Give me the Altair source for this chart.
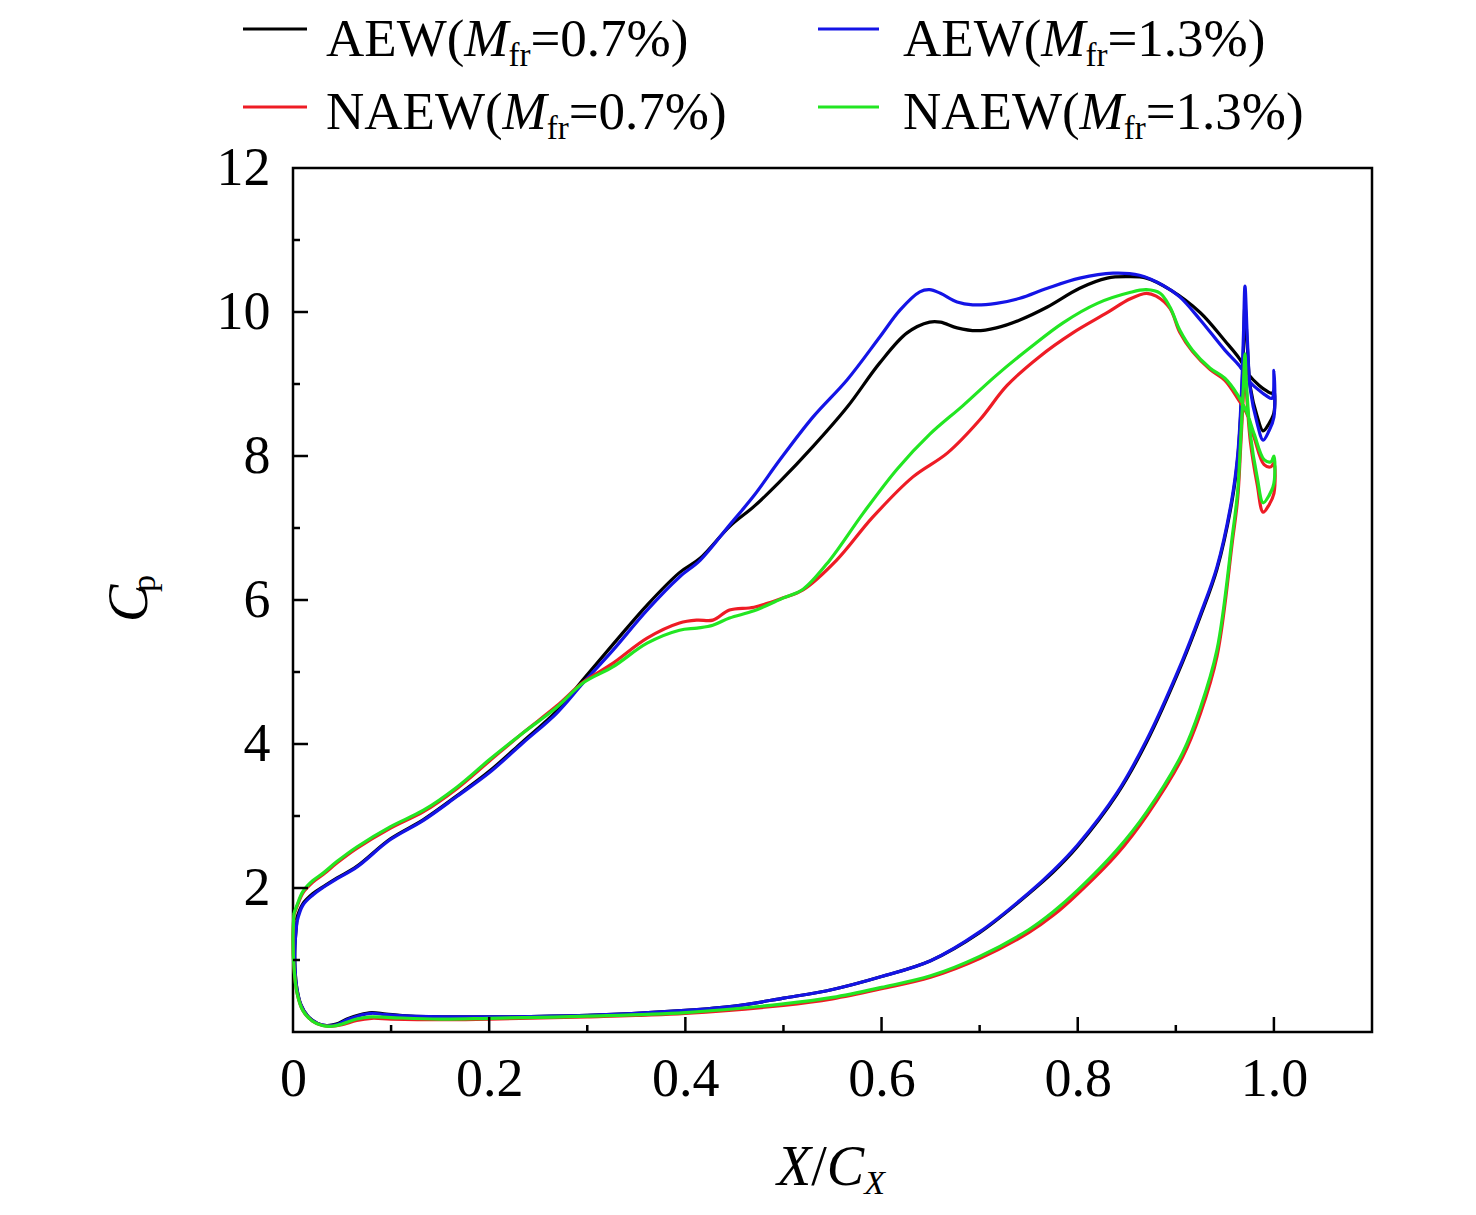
import altair as alt
import pandas as pd

FONT = "Liberation Serif"

# ---------------- data ----------------
SERIES = ["AEW07", "AEW13", "NAEW07", "NAEW13"]
COLORS = {"AEW07": "#000000", "AEW13": "#1414e6", "NAEW07": "#ee1c25", "NAEW13": "#22e622"}

AEW07_UP_X = [0.003, 0.01, 0.02, 0.031, 0.045, 0.065, 0.099, 0.133, 0.167, 0.2, 0.234, 0.269, 0.296,
              0.326, 0.361, 0.394, 0.415, 0.445, 0.47, 0.496, 0.53, 0.565, 0.598, 0.626, 0.649, 0.66,
              0.677, 0.697, 0.717, 0.741, 0.769, 0.802, 0.83, 0.85, 0.87, 0.894, 0.925, 0.95, 0.965,
              0.975, 0.985, 0.993, 0.998, 1.0]
AEW07_UP_Y = [1.55, 1.78, 1.92, 2.02, 2.14, 2.3, 2.68, 2.95, 3.28, 3.62, 4.03, 4.46, 4.9,
              5.38, 5.93, 6.38, 6.58, 7.02, 7.3, 7.64, 8.13, 8.68, 9.29, 9.71, 9.86, 9.86,
              9.78, 9.74, 9.78, 9.89, 10.07, 10.33, 10.47, 10.49, 10.47, 10.31, 9.99, 9.6, 9.35,
              9.12, 8.98, 8.9, 8.87, 8.9]
AEW07_LO_X = [0.004, 0.002, 0.002, 0.004, 0.008, 0.015, 0.025, 0.034, 0.044, 0.055, 0.068, 0.08, 0.095,
              0.12, 0.2, 0.3, 0.4, 0.45, 0.5, 0.55, 0.6, 0.65, 0.7, 0.75, 0.775, 0.8, 0.84, 0.87,
              0.907, 0.925, 0.942, 0.957, 0.963, 0.967, 0.969, 0.9705, 0.973, 0.976, 0.983, 0.989,
              0.995, 1.0]
AEW07_LO_Y = [1.55, 1.2, 0.9, 0.6, 0.38, 0.22, 0.12, 0.09, 0.11, 0.18, 0.24, 0.27, 0.25,
              0.22, 0.21, 0.23, 0.3, 0.36, 0.47, 0.59, 0.77, 0.99, 1.38, 1.92, 2.22, 2.58, 3.3, 4.02,
              5.14, 5.77, 6.43, 7.35, 7.95, 8.8, 9.5, 10.1, 9.5, 8.95, 8.55, 8.35,
              8.45, 8.6]

AEW13_UP_X = [0.004, 0.01, 0.02, 0.031, 0.045, 0.065, 0.099, 0.133, 0.167, 0.2, 0.234, 0.269, 0.296,
              0.326, 0.361, 0.394, 0.415, 0.445, 0.47, 0.496, 0.53, 0.565, 0.598, 0.619, 0.639, 0.649,
              0.66, 0.677, 0.693, 0.717, 0.741, 0.769, 0.802, 0.836, 0.863, 0.887, 0.904, 0.925, 0.95,
              0.965, 0.976, 0.986, 0.993, 0.998, 1.0]
AEW13_UP_Y = [1.53, 1.76, 1.9, 2.01, 2.13, 2.29, 2.67, 2.94, 3.27, 3.6, 4.01, 4.43, 4.85,
              5.3, 5.86, 6.32, 6.55, 7.04, 7.45, 7.94, 8.54, 9.06, 9.65, 10.03, 10.28, 10.31,
              10.26, 10.14, 10.1, 10.12, 10.19, 10.33, 10.47, 10.54, 10.51, 10.37, 10.21, 9.89, 9.47,
              9.25, 9.02, 8.9, 8.83, 8.8, 9.19]
AEW13_LO_X = [0.004, 0.002, 0.002, 0.004, 0.008, 0.015, 0.025, 0.034, 0.044, 0.055, 0.068, 0.08, 0.095,
              0.12, 0.2, 0.3, 0.4, 0.45, 0.5, 0.55, 0.6, 0.65, 0.7, 0.75, 0.775, 0.8, 0.84, 0.87,
              0.907, 0.925, 0.942, 0.957, 0.963, 0.967, 0.969, 0.9705, 0.973, 0.976, 0.983, 0.989,
              0.995, 1.0]
AEW13_LO_Y = [1.53, 1.2, 0.9, 0.6, 0.38, 0.22, 0.12, 0.09, 0.1, 0.17, 0.23, 0.26, 0.24,
              0.22, 0.21, 0.23, 0.3, 0.36, 0.47, 0.59, 0.77, 0.99, 1.39, 1.93, 2.24, 2.6, 3.32, 4.05,
              5.17, 5.8, 6.46, 7.39, 8.0, 8.9, 9.7, 10.36, 9.6, 8.92, 8.45, 8.22,
              8.35, 8.54]

NAEW07_UP_X = [0.001, 0.004, 0.01, 0.02, 0.031, 0.045, 0.065, 0.099, 0.133, 0.167, 0.2, 0.234, 0.269,
               0.296, 0.326, 0.361, 0.394, 0.412, 0.428, 0.445, 0.47, 0.5, 0.52, 0.554, 0.591, 0.632,
               0.667, 0.7, 0.728, 0.761, 0.795, 0.83, 0.853, 0.87, 0.88, 0.894, 0.904, 0.917, 0.935,
               0.95, 0.963, 0.972, 0.98, 0.99, 0.997, 1.0]
NAEW07_UP_Y = [1.63, 1.74, 1.93, 2.08, 2.19, 2.35, 2.55, 2.83, 3.06, 3.38, 3.76, 4.15, 4.53,
               4.86, 5.12, 5.47, 5.68, 5.72, 5.72, 5.86, 5.9, 6.03, 6.14, 6.55, 7.15, 7.71,
               8.04, 8.5, 8.98, 9.38, 9.71, 9.99, 10.18, 10.26, 10.22, 10.05, 9.72, 9.45, 9.2,
               9.05, 8.8, 8.6, 8.25, 7.88, 7.85, 7.9]
NAEW07_LO_X = [0.001, 0.0, 0.001, 0.004, 0.01, 0.02, 0.03, 0.04, 0.05, 0.065, 0.08, 0.1, 0.15, 0.2,
               0.3, 0.4, 0.5, 0.55, 0.6, 0.65, 0.7, 0.75, 0.775, 0.8, 0.84, 0.87, 0.907, 0.925, 0.942,
               0.958, 0.963, 0.966, 0.969, 0.9705, 0.972, 0.976, 0.983, 0.989, 0.995, 1.0]
NAEW07_LO_Y = [1.63, 1.3, 0.9, 0.55, 0.3, 0.15, 0.09, 0.08, 0.1, 0.16, 0.19, 0.18, 0.17, 0.18,
               0.21, 0.26, 0.37, 0.46, 0.6, 0.76, 1.02, 1.38, 1.62, 1.92, 2.47, 3.0, 3.82, 4.42, 5.22,
               6.85, 7.4, 8.1, 8.9, 9.35, 8.9, 8.2, 7.6, 7.22, 7.32, 7.48]

NAEW13_UP_X = [0.001, 0.004, 0.01, 0.02, 0.031, 0.045, 0.065, 0.099, 0.133, 0.167, 0.2, 0.234, 0.269,
               0.296, 0.326, 0.361, 0.394, 0.412, 0.428, 0.445, 0.47, 0.5, 0.52, 0.547, 0.581, 0.616,
               0.649, 0.683, 0.717, 0.751, 0.785, 0.82, 0.853, 0.87, 0.884, 0.894, 0.904, 0.917, 0.935,
               0.95, 0.963, 0.972, 0.98, 0.99, 0.997, 1.0]
NAEW13_UP_Y = [1.65, 1.76, 1.95, 2.1, 2.21, 2.37, 2.57, 2.85, 3.08, 3.4, 3.78, 4.15, 4.51,
               4.85, 5.07, 5.4, 5.58, 5.61, 5.65, 5.75, 5.85, 6.03, 6.15, 6.55, 7.2, 7.82,
               8.3, 8.7, 9.12, 9.5, 9.85, 10.12, 10.27, 10.31, 10.26, 10.07, 9.75, 9.47, 9.22,
               9.08, 8.85, 8.62, 8.3, 7.95, 7.92, 8.0]
NAEW13_LO_X = [0.001, 0.0, 0.001, 0.004, 0.01, 0.02, 0.03, 0.04, 0.05, 0.065, 0.08, 0.1, 0.15, 0.2,
               0.3, 0.4, 0.5, 0.55, 0.6, 0.65, 0.7, 0.75, 0.775, 0.8, 0.84, 0.87, 0.907, 0.925, 0.942,
               0.958, 0.963, 0.966, 0.969, 0.9705, 0.972, 0.976, 0.983, 0.989, 0.995, 1.0]
NAEW13_LO_Y = [1.65, 1.3, 0.9, 0.55, 0.3, 0.15, 0.09, 0.08, 0.11, 0.18, 0.21, 0.2, 0.18, 0.19,
               0.22, 0.27, 0.39, 0.48, 0.62, 0.78, 1.05, 1.42, 1.67, 1.97, 2.53, 3.05, 3.88, 4.5, 5.31,
               6.93, 7.5, 8.2, 9.0, 9.42, 9.0, 8.3, 7.7, 7.35, 7.45, 7.62]

X_TICKS = [0, 0.2, 0.4, 0.6, 0.8, 1.0]
X_MAJOR = [0.2, 0.4, 0.6, 0.8, 1.0]
X_MINOR = [0.1, 0.3, 0.5, 0.7, 0.9]
Y_TICKS = [2, 4, 6, 8, 10, 12]
Y_MAJOR = [2, 4, 6, 8, 10]
Y_MINOR = [1, 3, 5, 7, 9, 11]

LEGEND_NAME = ["AEW(", "AEW(", "NAEW(", "NAEW("]
LEGEND_VAL = ["=0.7%)", "=1.3%)", "=0.7%)", "=1.3%)"]

# ---------------- layout constants ----------------
W, H = 1079, 864
SX = alt.Scale(domain=[0, 1.1], nice=False, zero=False)
SY = alt.Scale(domain=[0, 12], nice=False, zero=False)

# Times-compatible advance widths (per 1000 em)
REG = {'A': 722, 'E': 611, 'W': 944, 'N': 722, '(': 333, ')': 333, '=': 564, '0': 500, '1': 500,
       '3': 500, '7': 500, '.': 250, '%': 833, 'f': 333, 'r': 333, 'p': 500, '/': 278}
ITA = {'M': 833, 'X': 611, 'C': 667}


def width(s, size, italic):
    table = ITA if italic else REG
    return sum(table.get(c, 500) for c in s) * size / 1000.0


one = pd.DataFrame({"k": [0]})


def text_piece(s, x, y, size, italic=False, angle=0):
    kw = dict(text=s, font=FONT, fontSize=size, align="left", baseline="alphabetic", color="black")
    if italic:
        kw["fontStyle"] = "italic"
    if angle:
        kw["angle"] = angle
    return alt.Chart(one).mark_text(**kw).encode(x=alt.value(x), y=alt.value(y))


def rich(pieces, x0, y0):
    out = []
    x = x0
    for s, size, italic, dy in pieces:
        out.append(text_piece(s, x, y0 + dy, size, italic))
        x += width(s, size, italic)
    return out


def path_rows(name, ux, uy, lx, ly):
    xs = list(ux) + list(reversed(lx))
    ys = list(uy) + list(reversed(ly))
    return pd.DataFrame({"series": name, "i": range(len(xs)), "x": xs, "y": ys})


x_axis = alt.Axis(values=X_TICKS, title=None, ticks=False, tickSize=0, domain=False, grid=False,
                  labelExpr="datum.value == 0 ? '0' : format(datum.value, '.1f')",
                  labelFont=FONT, labelFontSize=54, labelColor="black", labelPadding=20,
                  labelFlush=False, labelOverlap=False, labelBound=False)
y_axis = alt.Axis(values=Y_TICKS, title=None, ticks=False, tickSize=0, domain=False, grid=False,
                  format="d", labelFont=FONT, labelFontSize=54, labelColor="black", labelPadding=23,
                  labelFlush=False, labelOverlap=False, labelBound=False)

curves = {
    "AEW07": (AEW07_UP_X, AEW07_UP_Y, AEW07_LO_X, AEW07_LO_Y),
    "AEW13": (AEW13_UP_X, AEW13_UP_Y, AEW13_LO_X, AEW13_LO_Y),
    "NAEW07": (NAEW07_UP_X, NAEW07_UP_Y, NAEW07_LO_X, NAEW07_LO_Y),
    "NAEW13": (NAEW13_UP_X, NAEW13_UP_Y, NAEW13_LO_X, NAEW13_LO_Y),
}

layers = []
for name in SERIES:
    df = path_rows(name, *curves[name])
    layers.append(
        alt.Chart(df).mark_line(color=COLORS[name], strokeWidth=3.2, strokeJoin="round",
                                interpolate="catmull-rom").encode(
            x=alt.X("x:Q", scale=SX, axis=x_axis),
            y=alt.Y("y:Q", scale=SY, axis=y_axis),
            order="i:Q",
        )
    )

# inward ticks
tick_style = dict(color="black", strokeWidth=2.5)
layers.append(alt.Chart(pd.DataFrame({"v": X_MAJOR})).mark_rule(**tick_style).encode(
    x=alt.X("v:Q", scale=SX, axis=x_axis), y=alt.value(H), y2=alt.value(H - 15)))
layers.append(alt.Chart(pd.DataFrame({"v": X_MINOR})).mark_rule(**tick_style).encode(
    x=alt.X("v:Q", scale=SX, axis=x_axis), y=alt.value(H), y2=alt.value(H - 7)))
layers.append(alt.Chart(pd.DataFrame({"v": Y_MAJOR})).mark_rule(**tick_style).encode(
    y=alt.Y("v:Q", scale=SY, axis=y_axis), x=alt.value(0), x2=alt.value(15)))
layers.append(alt.Chart(pd.DataFrame({"v": Y_MINOR})).mark_rule(**tick_style).encode(
    y=alt.Y("v:Q", scale=SY, axis=y_axis), x=alt.value(0), x2=alt.value(7)))

# legend (custom, to allow italic M and subscript fr)
LEG_FS = 53
leg_line_x = [(-50, 14), (525, 586), (-50, 14), (525, 586)]
leg_line_y = [-139, -139, -61, -61]
leg_text_x = [33, 610, 33, 610]
leg_text_y = [-112, -112, -39, -39]
for k, name in enumerate(SERIES):
    x1, x2 = leg_line_x[k]
    layers.append(alt.Chart(one).mark_rule(color=COLORS[name], strokeWidth=3).encode(
        x=alt.value(x1), x2=alt.value(x2), y=alt.value(leg_line_y[k])))
    layers += rich([(LEGEND_NAME[k], LEG_FS, False, 0), ("M", LEG_FS, True, 0), ("fr", 33, False, 10),
                    (LEGEND_VAL[k], LEG_FS, False, 0)], leg_text_x[k], leg_text_y[k])

# axis titles
layers += rich([("X", 56, True, 0), ("/", 56, False, 0), ("C", 56, True, 0), ("X", 34, True, 9)],
               484, 1017)
layers.append(text_piece("C", -146, 454, 56, italic=True, angle=270))
layers.append(text_piece("p", -138, 424, 34, italic=False, angle=270))

chart = alt.layer(*layers).properties(
    width=W, height=H,
    padding={"left": 285, "top": 160, "right": 96, "bottom": 173},
    autosize=alt.AutoSizeParams(type="none"),
    background="white",
).configure_view(stroke="black", strokeWidth=2.5)

chart.save("out.html", embed_options={"renderer": "svg", "actions": False})
